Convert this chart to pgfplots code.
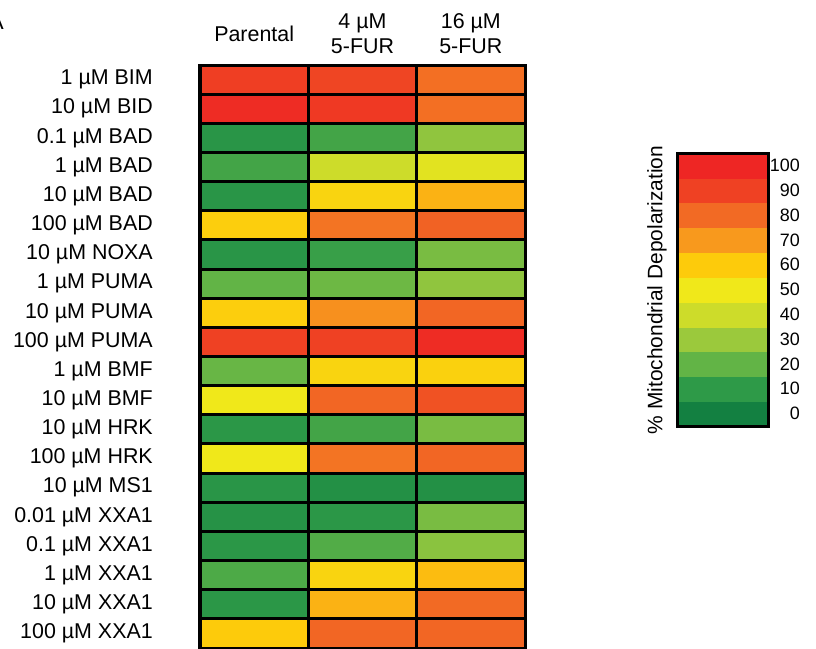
\documentclass[border=0pt]{standalone}
\usepackage{fontspec}
\setmainfont{Liberation Sans}
\usepackage{pgfplots}
\pgfplotsset{compat=1.18}
\usepackage{pgfplotstable}

\pgfplotsset{colormap={depol}{rgb255=(19,128,65) rgb255=(46,154,72) rgb255=(98,180,70) rgb255=(155,201,60) rgb255=(205,220,42) rgb255=(240,232,26) rgb255=(253,203,11) rgb255=(248,153,29) rgb255=(242,106,36) rgb255=(239,65,35) rgb255=(238,38,36)}}

% rows from bottom (y=0: 100 uM XXA1) to top (y=19: 1 uM BIM)
\pgfplotstableread{
x y v
0 0 60
1 0 81
2 0 81
0 1 9
1 1 65
2 1 80
0 2 16
1 2 57
2 2 63
0 3 9
1 3 17
2 3 27
0 4 7
1 4 9
2 4 24
0 5 8
1 5 6
2 5 6
0 6 50
1 6 78
2 6 81
0 7 9
1 7 14
2 7 24
0 8 50
1 8 81
2 8 86
0 9 21
1 9 57
2 9 58
0 10 90
1 10 90
2 10 98
0 11 59
1 11 72
2 11 81
0 12 20
1 12 22
2 12 28
0 13 8
1 13 12
2 13 24
0 14 59
1 14 78
2 14 82
0 15 8
1 15 57
2 15 65
0 16 14
1 16 40
2 16 46
0 17 8
1 17 14
2 17 28
0 18 98
1 18 93
2 18 79
0 19 91
1 19 89
2 19 79
}\heat

% colour bar: band corners, each band coloured by its lower-left corner value
\pgfplotstableread{
x y v
-0.5 -5 0
0.5 -5 0
-0.5 5 10
0.5 5 10
-0.5 15 20
0.5 15 20
-0.5 25 30
0.5 25 30
-0.5 35 40
0.5 35 40
-0.5 45 50
0.5 45 50
-0.5 55 60
0.5 55 60
-0.5 65 70
0.5 65 70
-0.5 75 80
0.5 75 80
-0.5 85 90
0.5 85 90
-0.5 95 100
0.5 95 100
-0.5 105 100
0.5 105 100
}\cbar

\begin{document}
\begin{tikzpicture}
\begin{axis}[
  at={(200bp,-65bp)}, anchor=north west,
  scale only axis, width=325bp, height=583bp,
  xmin=-0.5, xmax=2.5, ymin=-0.5, ymax=19.5,
  colormap name=depol, point meta min=0, point meta max=100,
  xtick={0,1,2},
  xticklabels={Parental,{4 µM\\5-FUR},{16 µM\\5-FUR}},
  xticklabel pos=upper,
  xticklabel style={align=center, anchor=center, yshift=31bp, font=\fontsize{21.5}{25}\selectfont},
  ytick={0,...,19},
  yticklabels={100 µM XXA1,10 µM XXA1,1 µM XXA1,0.1 µM XXA1,0.01 µM XXA1,10 µM MS1,100 µM HRK,10 µM HRK,10 µM BMF,1 µM BMF,100 µM PUMA,10 µM PUMA,1 µM PUMA,10 µM NOXA,100 µM BAD,10 µM BAD,1 µM BAD,0.1 µM BAD,10 µM BID,1 µM BIM},
  yticklabel style={anchor=east, inner sep=0pt, xshift=-47bp, font=\fontsize{21.5}{25}\selectfont},
  major tick length=0pt, minor tick length=0pt,
  minor xtick={0.5,1.5},
  minor ytick={0.5,1.5,...,18.5},
  grid=minor,
  minor grid style={black, line width=3bp},
  axis line style={black, line width=3bp},
  axis on top,
]
\addplot[matrix plot*, mesh/cols=3, point meta=explicit] table[x=x,y=y,meta=v]{\heat};
\end{axis}

\begin{axis}[
  at={(677bp,-153bp)}, anchor=north west,
  scale only axis, width=91bp, height=273bp,
  xmin=-0.5, xmax=0.5, ymin=-5, ymax=105,
  colormap name=depol, point meta min=0, point meta max=100,
  xtick=\empty,
  ytick={0,10,...,100},
  yticklabel pos=right,
  /pgf/number format/assume math mode=true,
  yticklabel style={anchor=east, inner sep=0pt, xshift=32bp, font=\fontsize{18}{20}\selectfont},
  major tick length=0pt,
  axis line style={black, line width=3bp},
  axis on top,
]
\addplot[surf, shader=flat corner, mesh/cols=2, point meta=explicit] table[x=x,y=y,meta=v]{\cbar};
\end{axis}

\node[rotate=90, font=\fontsize{21}{24}\selectfont] at (657bp,-290bp) {\% Mitochondrial Depolarization};
\node[anchor=base east, font=\fontsize{22}{24}\selectfont, inner sep=0pt] at (4bp,-29bp) {A};

\pgfresetboundingbox
\useasboundingbox (0,0) rectangle (816bp,-649bp);
\end{tikzpicture}
\end{document}
